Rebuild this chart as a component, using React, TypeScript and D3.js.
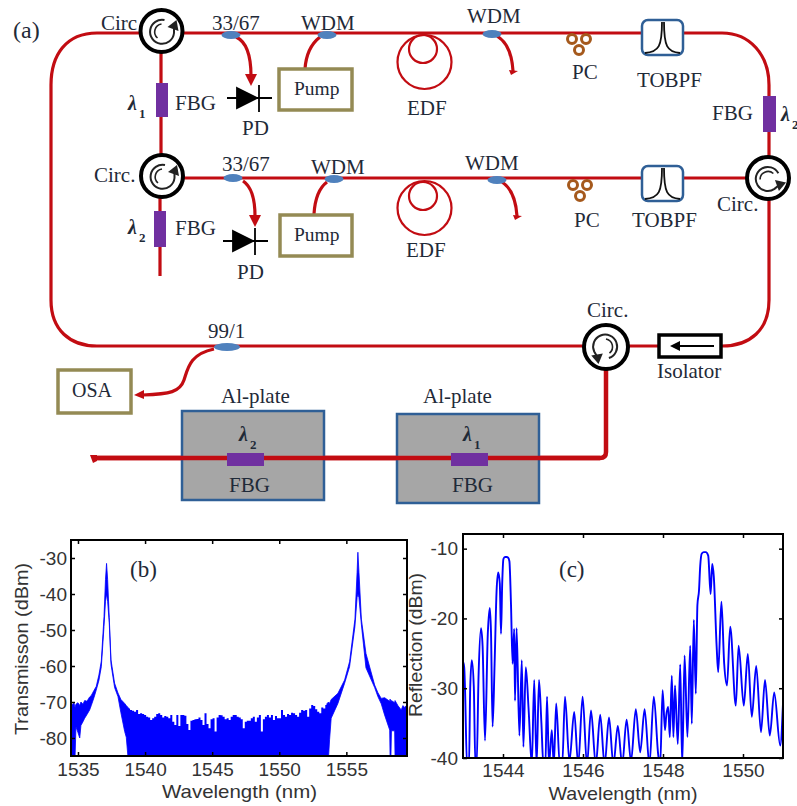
import React, { useEffect, useRef } from 'react';
import * as d3 from 'd3';

// panel (b): transmission trace, band between the upper and lower edge of the noisy trace
const bPeak1Wave = [1534.48, 1534.52, 1534.7, 1534.78, 1534.85, 1535, 1535.13, 1535.22, 1535.37, 1535.5, 1535.67, 1535.87, 1535.99, 1536.19, 1536.36, 1536.56, 1536.74, 1536.94, 1537.05, 1537.13, 1537.21, 1537.33, 1537.46, 1537.73, 1537.98, 1538.2, 1538.48, 1538.6, 1538.73, 1538.8];
const bPeak1Upper = [-71.5, -71, -70.2, -71.5, -70.6, -70.2, -71, -70, -70.6, -69.6, -69.8, -68.6, -68.2, -66.8, -65.7, -62.5, -58.6, -46.3, -36, -31.5, -36, -46.5, -58.3, -64.8, -67.5, -69.3, -70.4, -71, -71.5, -72];
const bPeak1Lower = [-80, -85.5, -85.5, -85.5, -76.9, -78.5, -80, -76.5, -75.5, -74.5, -73.5, -72.2, -71, -68.8, -66.7, -64, -60.2, -49, -42, -40, -42, -48, -59.5, -66, -68.5, -73, -78.2, -79.8, -85.5, -85.5];

const bPeak2Wave = [1553.55, 1553.67, 1553.75, 1553.87, 1554.37, 1554.87, 1555.24, 1555.64, 1555.8, 1555.86, 1555.94, 1556.12, 1556.46, 1557.11, 1557.35, 1557.6, 1557.85, 1558.23, 1558.26, 1558.32, 1558.36, 1558.6, 1558.63, 1558.84, 1559.09, 1559.22, 1559.34, 1559.6];
const bPeak2Upper = [-70.5, -70, -70.4, -69.3, -67.6, -63.9, -58.8, -47, -34, -28.4, -34, -47, -56.5, -65.3, -67.4, -69, -68.8, -69.8, -69.2, -70, -69.6, -70.2, -69.6, -71, -72.2, -71, -71.5, -70.5];
const bPeak2Lower = [-85.5, -85.5, -80.5, -74.5, -70.4, -64.8, -60.2, -49, -41, -40, -41, -48.5, -60.5, -66, -68.5, -70.5, -73.6, -77.8, -85.5, -85.5, -78, -78, -85.5, -85.5, -85.5, -85.5, -85.5, -85.5];

// top of the solid noise floor between the two peaks, one reading every 0.15 nm from 1538.73 nm
const bFloorStart = 1538.73;
const bFloorStep = 0.15;
const bFloorTop = [
  -71.8, -72.2, -72.4, -72.7, -72.2, -73.3, -73.1, -73.3, -73.6, -74.1, -74.3, -75, -74.5, -74.1, -73.3, -73.1, -73.6, -74.3, -73.9, -74.1,
  -74.5, -73.6, -75.5, -76.4, -73.6, -76.7, -73.6, -73.6, -73.8, -76.1, -77.8, -75.2, -75, -74.8, -74.7, -74.3, -75, -76.4, -73.1, -76.1,
  -77.3, -74.8, -74.5, -78.2, -74.3, -73.6, -73.7, -74.1, -74.8, -74.5,
  -75, -74.1, -73.6, -73.6, -74.1, -74.3, -74.8, -77.3, -75.5, -75.2, -75.2, -74.5, -74.1, -75.5, -74.3, -73.6, -78.2, -74.8, -74.1, -73.6,
  -74.3, -73.6, -75, -73.9, -74.5, -74.5, -72.2, -73.6, -74.1, -73.3, -73.6, -73, -73.1, -73.6, -74.1, -73, -72.2, -72.4, -72.2, -74.1,
  -71.8, -70.8, -71.1, -72, -72.7, -73.1, -71.5, -71.8, -70.8, -70.2,
];

// panel (c): reflection spectrum
const cWave = [
  1543, 1543.03, 1543.05, 1543.1, 1543.15, 1543.18, 1543.22, 1543.27, 1543.31, 1543.34, 1543.39, 1543.45, 1543.49, 1543.55, 1543.62, 1543.67, 1543.7, 1543.74, 1543.79, 1543.84, 1543.88, 1543.92, 1543.95, 1543.98,
  1544.01, 1544.05, 1544.09, 1544.13, 1544.16, 1544.2, 1544.24, 1544.28, 1544.3, 1544.34, 1544.41, 1544.47, 1544.51, 1544.57, 1544.64, 1544.72, 1544.78, 1544.84, 1544.9, 1544.96,
  1545.01, 1545.06, 1545.1, 1545.15, 1545.22, 1545.27, 1545.33, 1545.42, 1545.48, 1545.55, 1545.66, 1545.78, 1545.88, 1545.99, 1546.1, 1546.2, 1546.32, 1546.43, 1546.54, 1546.65, 1546.76, 1546.87, 1546.98,
  1547.09, 1547.2, 1547.32, 1547.43, 1547.54, 1547.66, 1547.77, 1547.88, 1547.93, 1547.99, 1548.05, 1548.08, 1548.13, 1548.17, 1548.22, 1548.26, 1548.3, 1548.37, 1548.43, 1548.48, 1548.54, 1548.61, 1548.68, 1548.72, 1548.77, 1548.82, 1548.86, 1548.9, 1548.93,
  1548.97, 1549.02, 1549.07, 1549.13, 1549.19, 1549.23, 1549.27, 1549.34, 1549.38, 1549.46, 1549.53, 1549.6, 1549.68, 1549.82, 1549.89, 1550.02, 1550.12, 1550.22, 1550.33, 1550.45, 1550.55, 1550.67, 1550.78, 1550.93, 1551,
];
const cReflection = [
  -26.2, -27, -30, -41, -41, -30, -26, -29.8, -41, -41, -28, -21.4, -24, -37.5, -22.2, -18.5, -22, -35.5, -26.5, -16, -13.4, -15, -22.2, -15,
  -11.5, -11.2, -11.2, -11.3, -11.8, -18, -26.5, -21.5, -31.8, -21.4, -36.8, -26, -38.4, -27, -33, -41, -28.8, -41, -28.8, -35,
  -41, -41, -31.2, -41, -36, -41, -32.2, -41, -41, -31.2, -40.5, -33.4, -41, -31.2, -41, -33.2, -41, -33.8, -41, -34.2, -41, -35.4, -41,
  -34.5, -40.5, -33, -39.2, -33, -41, -31.2, -39.5, -41, -30.3, -36, -34, -32.7, -37, -28.2, -37, -29.6, -38, -26.6, -41, -25.3, -37, -23.9, -35.1, -20.2, -30.8, -18.1, -16, -12.5,
  -10.7, -10.5, -10.5, -11, -16.5, -12.2, -14, -23.9, -27.7, -17.6, -26.5, -29.6, -21.2, -32.5, -23.9, -32.5, -25.1, -34.1, -26.8, -36.3, -28.8, -36.8, -30.6, -38.2, -32.2,
];

const bXTicks = [1535, 1540, 1545, 1550, 1555];
const bYTicks = [-80, -70, -60, -50, -40, -30];
const cXTicks = [1544, 1546, 1548, 1550];
const cYTicks = [-40, -30, -20, -10];

const RED = '#c20c12';
const PURPLE = '#7030a0';
const BLUE = '#4f81bd';
const OLIVE = '#948a54';
const FRAME = '#2f5f96';
const INK = '#1f2a38';
const SANS = '"Liberation Sans", Arial, sans-serif';
const SERIF = '"Liberation Serif", "Times New Roman", serif';

const Label = ({ x, y, size = 21, anchor = 'start', children }: any) => (
  <text x={x} y={y} fontSize={size} fontFamily={SERIF} fill={INK} textAnchor={anchor}>{children}</text>
);

const Lambda = ({ x, y, n }: any) => (
  <g fontFamily={SERIF} fill={INK}>
    <text x={x} y={y} fontSize={20} fontWeight="bold" fontStyle="italic">λ</text>
    <text x={x + 11} y={y + 8} fontSize={13} fontWeight="bold">{n}</text>
  </g>
);

// ring with the curled arrow inside, angle turns the arrow for each circulator
const Circulator = ({ cx, cy, r = 21, angle = 0 }: any) => (
  <g transform={`translate(${cx},${cy})`}>
    <circle r={r} fill="#fff" stroke="#000" strokeWidth={4} />
    <g transform={`rotate(${angle})`} fill="none" stroke="#222">
      <path d="M3,-11 A12,12 0 1 0 12.5,2 L12.5,-6" strokeWidth={2} />
      <path d="M0,-7 A8,8 0 0 0 -4,7" strokeWidth={1.6} />
      <path d="M6,-4 L15,-11 L17,0 Z" fill="#222" stroke="none" />
    </g>
  </g>
);

const Coupler = ({ cx, cy, rx = 9.5 }: any) => <ellipse cx={cx} cy={cy} rx={rx} ry={4} fill={BLUE} />;

const Diode = ({ x, y }: any) => (
  <g stroke="#000" strokeWidth={1.8}>
    <line x1={x - 24} x2={x + 21} y1={y} y2={y} />
    <path d={`M${x - 14},${y - 10} L${x + 6},${y} L${x - 14},${y + 10} Z`} fill="#000" />
    <line x1={x + 8} x2={x + 8} y1={y - 13} y2={y + 14} />
  </g>
);

const Pc = ({ x, y }: any) => (
  <g fill="#fff" stroke="#a5591c" strokeWidth={3}>
    <circle cx={x - 7} cy={y} r={4.5} />
    <circle cx={x + 7} cy={y} r={4.5} />
    <circle cx={x} cy={y + 11} r={4.5} />
  </g>
);

const Filter = ({ x, y, h = 35 }: any) => (
  <g>
    <rect x={x} y={y} width={41} height={h} rx={6} fill="#fff" stroke={FRAME} strokeWidth={2.5} />
    <path d={`M${x + 3},${y + h - 2} C${x + 17},${y + h - 3} ${x + 20},${y + h - 9} ${x + 20},${y + 2} M${x + 38},${y + h - 2} C${x + 25},${y + h - 3} ${x + 22},${y + h - 9} ${x + 22},${y + 2}`} fill="none" stroke="#111" strokeWidth={1.8} />
  </g>
);

const Plate = ({ x, y }: any) => (
  <rect x={x} y={y} width={142} height={89} fill="#a6a6a6" stroke={FRAME} strokeWidth={2.5} />
);

const Box = ({ x, y, w, h }: any) => (
  <rect x={x} y={y} width={w} height={h} fill="#fff" stroke={OLIVE} strokeWidth={3.5} />
);

const Schematic = () => (
  <g>
    <g fill="none" stroke={RED} strokeWidth={3.2}>
      {/* main ring */}
      <path d="M140,33 H97 C66,33 51,55 51,85 V300 C51,330 70,346 97,346 H590" />
      <path d="M180,33 H722 C750,33 769,55 769,85 V160" />
      <path d="M769,195 V300 C769,330 750,346 722,346 H625" />
      <path d="M182,178 H750" />
      <path d="M161,50 V158" />
      <path d="M160,195 V276" />
      {/* pump and tap branches */}
      <path d="M236,37 C247,42 251,56 251,76" />
      <path d="M243,181 C252,187 255,200 255,216" />
      <path d="M320,37 C311,44 306,54 305,69" />
      <path d="M327,182 C319,188 315,198 314,214" />
      <path d="M497,36 C507,42 512,54 513,71" />
      <path d="M502,182 C511,188 516,200 517,216" />
      <path d="M214,349 C190,354 188,368 184,380 C180,392 170,394 143,395" />
      <path d="M606,370 V452 Q606,458 600,458 H95" strokeWidth={4.5} />
      {/* EDF coils */}
      <g strokeWidth={2.2}>
        <circle cx={424.5} cy={62} r={27} />
        <circle cx={423} cy={49} r={14} />
        <circle cx={424.5} cy={208} r={27} />
        <circle cx={423} cy={196} r={14} />
      </g>
    </g>
    <g fill={RED}>
      <path d="M245,74 H257 L251,86 Z" />
      <path d="M249,215 H261 L255,227 Z" />
      <path d="M509,70 L518,71 L511,75 Z" />
      <path d="M513,215 L522,216 L515,220 Z" />
      <path d="M134,395 L144,390 V399 Z" />
      <path d="M90,455 H97 V461 L93,463 Z" />
    </g>

    <Circulator cx={161.5} cy={31} />
    <Circulator cx={162} cy={176} />
    <Circulator cx={768} cy={178} angle={50} />
    <Circulator cx={606} cy={347} r={22} angle={150} />

    <rect x={156} y={83} width={12} height={34} fill={PURPLE} />
    <rect x={154} y={211} width={12} height={36} fill={PURPLE} />
    <rect x={763} y={96} width={13} height={36} fill={PURPLE} />

    <Coupler cx={231} cy={35} />
    <Coupler cx={327} cy={35} />
    <Coupler cx={233} cy={178} />
    <Coupler cx={334} cy={179} />
    <Coupler cx={492} cy={34} />
    <Coupler cx={497} cy={180} />
    <Coupler cx={227} cy={347} rx={13} />

    <Diode x={251} y={98} />
    <Diode x={247} y={241} />

    <Box x={279} y={69} w={73} h={41} />
    <Box x={280} y={215} w={72} h={41} />
    <Box x={58} y={370} w={73} h={43} />

    <Pc x={579} y={39} />
    <Pc x={580} y={185} />
    <Filter x={642} y={20} />
    <Filter x={642} y={166} />

    <rect x={659} y={335} width={62} height={22} fill="#fff" stroke="#000" strokeWidth={3.5} />
    <path d="M714,346 H678" stroke="#000" strokeWidth={2} />
    <path d="M670,346 L680,341 V351 Z" fill="#000" />

    <Plate x={182} y={411} />
    <Plate x={397} y={414} />
    <path d="M92,458 H600" stroke={RED} strokeWidth={4.5} />
    <rect x={227} y={453} width={37} height={13} fill={PURPLE} />
    <rect x={451} y={453} width={37} height={13} fill={PURPLE} />

    <Label x={13} y={38} size={24}>(a)</Label>
    <Label x={101} y={30}>Circ</Label>
    <Label x={94} y={182}>Circ.</Label>
    <Label x={717} y={211}>Circ.</Label>
    <Label x={587} y={317}>Circ.</Label>
    <Label x={212} y={30}>33/67</Label>
    <Label x={222} y={171}>33/67</Label>
    <Label x={301} y={30}>WDM</Label>
    <Label x={311} y={174}>WDM</Label>
    <Label x={467} y={23}>WDM</Label>
    <Label x={465} y={170}>WDM</Label>
    <Label x={175} y={110}>FBG</Label>
    <Label x={175} y={235}>FBG</Label>
    <Label x={712} y={120}>FBG</Label>
    <Label x={229} y={492}>FBG</Label>
    <Label x={452} y={492}>FBG</Label>
    <Label x={242} y={135}>PD</Label>
    <Label x={237} y={279}>PD</Label>
    <Label x={294} y={95} size={19.5}>Pump</Label>
    <Label x={294} y={241} size={19.5}>Pump</Label>
    <Label x={407} y={115}>EDF</Label>
    <Label x={406} y={257}>EDF</Label>
    <Label x={572} y={79}>PC</Label>
    <Label x={574} y={227}>PC</Label>
    <Label x={637} y={87}>TOBPF</Label>
    <Label x={632} y={227}>TOBPF</Label>
    <Label x={208} y={338}>99/1</Label>
    <Label x={72} y={397} size={20}>OSA</Label>
    <Label x={657} y={378}>Isolator</Label>
    <Label x={221} y={403}>Al-plate</Label>
    <Label x={423} y={403}>Al-plate</Label>
    <Lambda x={128} y={110} n="1" />
    <Lambda x={128} y={234} n="2" />
    <Lambda x={781} y={121} n="2" />
    <Lambda x={239} y={441} n="2" />
    <Lambda x={463} y={441} n="1" />
  </g>
);

const drawFrame = (g: any, x: any, y: any, xTicks: number[], yTicks: number[], xPad: number, yPad: number) => {
  const [x0, x1] = x.range();
  const [y0, y1] = y.range();

  const styleAxis = (a: any) => {
    a.select('.domain').remove();
    a.selectAll('line').attr('stroke', '#000').attr('stroke-width', 1.5);
    a.selectAll('text').attr('fill', '#333').attr('font-size', 19).attr('font-family', SANS);
  };

  g.append('g').attr('transform', `translate(0,${y0})`)
    .call(d3.axisBottom(x).tickValues(xTicks).tickSize(-4).tickPadding(xPad).tickFormat((d: any) => String(d)))
    .call(styleAxis);
  g.append('g').attr('transform', `translate(0,${y1})`)
    .call(d3.axisTop(x).tickValues(xTicks).tickSize(-4).tickFormat(() => ''))
    .call(styleAxis);
  g.append('g').attr('transform', `translate(${x0},0)`)
    .call(d3.axisLeft(y).tickValues(yTicks).tickSize(-4).tickPadding(yPad).tickFormat((d: any) => String(d)))
    .call(styleAxis);
  g.append('g').attr('transform', `translate(${x1},0)`)
    .call(d3.axisRight(y).tickValues(yTicks).tickSize(-4).tickFormat(() => ''))
    .call(styleAxis);

  g.append('rect')
    .attr('x', x0).attr('y', y1)
    .attr('width', x1 - x0).attr('height', y0 - y1)
    .attr('fill', 'none').attr('stroke', '#000').attr('stroke-width', 2);
};

// the titles in the picture are stretched, so they get a fixed length
const axisTitle = (g: any, x: number, y: number, text: string, length: number, rotate = false) => {
  g.append('text')
    .attr('transform', `translate(${x},${y})` + (rotate ? ' rotate(-90)' : ''))
    .attr('text-anchor', 'middle')
    .attr('font-family', SANS)
    .attr('font-size', 19)
    .attr('fill', '#333')
    .attr('textLength', length)
    .attr('lengthAdjust', 'spacingAndGlyphs')
    .text(text);
};

const App = () => {
  const plots = useRef<SVGGElement>(null);

  useEffect(() => {
    const root = d3.select(plots.current);
    root.selectAll('*').remove();

    // panel (b)
    const bx = d3.scaleLinear().domain([1534.48, 1559.52]).range([71, 407]);
    const by = d3.scaleLinear().domain([-85, -25]).range([756, 540]);
    const b = root.append('g');
    b.append('clipPath').attr('id', 'clip-b').append('rect')
      .attr('x', 71).attr('y', 540).attr('width', 336).attr('height', 216);
    const bPlot = b.append('g').attr('clip-path', 'url(#clip-b)');

    const peak = (wave: number[], upper: number[], lower: number[]) =>
      d3.area<number>()
        .x((w) => bx(w))
        .y0((_, i) => by(lower[i]))
        .y1((_, i) => by(upper[i]))(wave);

    bPlot.append('path').attr('d', peak(bPeak1Wave, bPeak1Upper, bPeak1Lower)).attr('fill', '#0000ff').attr('stroke', '#0000ff').attr('stroke-width', 0.8);
    bPlot.append('path').attr('d', peak(bPeak2Wave, bPeak2Upper, bPeak2Lower)).attr('fill', '#0000ff').attr('stroke', '#0000ff').attr('stroke-width', 0.8);

    const floor = d3.area<number>()
      .x((_, i) => bx(bFloorStart + i * bFloorStep))
      .y0(by(-85.5))
      .y1((d) => by(d))
      .curve(d3.curveStepAfter);
    bPlot.append('path').attr('d', floor(bFloorTop)).attr('fill', '#0000ff');

    drawFrame(b, bx, by, bXTicks, bYTicks, 7, 4);
    axisTitle(b, 239.5, 798, 'Wavelength (nm)', 155);
    axisTitle(b, 28, 649, 'Transmisson (dBm)', 172, true);

    // panel (c)
    const cx = d3.scaleLinear().domain([1543, 1551]).range([463, 783]);
    const cy = d3.scaleLinear().domain([-40, -7.9]).range([758, 534]);
    const c = root.append('g');
    c.append('clipPath').attr('id', 'clip-c').append('rect')
      .attr('x', 463).attr('y', 534).attr('width', 320).attr('height', 224);

    const line = d3.line<number>()
      .x((w) => cx(w))
      .y((_, i) => cy(cReflection[i]))
      .curve(d3.curveMonotoneX);

    c.append('g').attr('clip-path', 'url(#clip-c)')
      .append('path')
      .attr('d', line(cWave))
      .attr('fill', 'none')
      .attr('stroke', '#0000ff')
      .attr('stroke-width', 1.9);

    drawFrame(c, cx, cy, cXTicks, cYTicks, 6, 5);
    axisTitle(c, 623, 800, 'Wavelength (nm)', 149);
    axisTitle(c, 422, 645, 'Reflection (dBm)', 144, true);
  }, []);

  return (
    <svg width={797} height={806} style={{ position: 'absolute', left: 0, top: 0, background: '#fff' }}>
      <Schematic />
      <g ref={plots} />
      <Label x={130} y={577} size={23}>(b)</Label>
      <Label x={559} y={577} size={23}>(c)</Label>
    </svg>
  );
};

export default App;
